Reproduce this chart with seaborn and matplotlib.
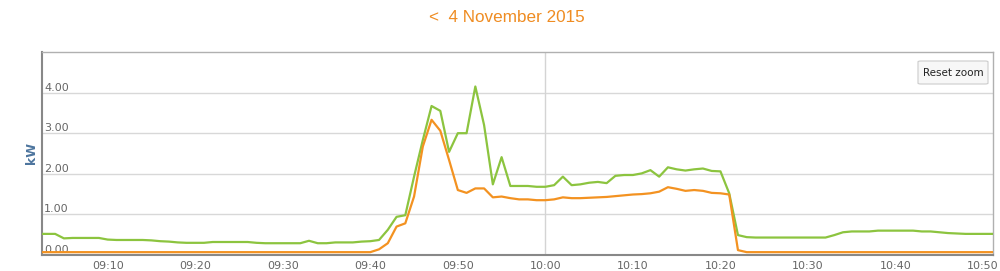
import matplotlib
matplotlib.use("Agg")
import matplotlib.pyplot as plt
import matplotlib.dates as mdates
from matplotlib.patches import FancyBboxPatch
import numpy as np
import pandas as pd
import seaborn as sns

# ---- data (1-minute readings, kW) ----
start_time = "2015-11-04 09:02"
green_kw = [
    0.52, 0.52, 0.52, 0.41, 0.42, 0.42, 0.42, 0.42, 0.38, 0.37,   # 09:02-09:11
    0.37, 0.37, 0.37, 0.36, 0.34, 0.33, 0.31, 0.30, 0.30, 0.30,   # 09:12-09:21
    0.32, 0.32, 0.32, 0.32, 0.32, 0.30, 0.29, 0.29, 0.29, 0.29,   # 09:22-09:31
    0.29, 0.35, 0.29, 0.29, 0.31, 0.31, 0.31, 0.33, 0.34, 0.37,   # 09:32-09:41
    0.62, 0.94, 0.98, 1.93, 2.83, 3.67, 3.55, 2.54, 3.00, 3.00,   # 09:42-09:51
    4.15, 3.20, 1.74, 2.41, 1.70, 1.70, 1.70, 1.68, 1.68, 1.72,   # 09:52-10:01
    1.93, 1.72, 1.74, 1.78, 1.80, 1.77, 1.95, 1.97, 1.97, 2.01,   # 10:02-10:11
    2.09, 1.93, 2.16, 2.11, 2.08, 2.11, 2.13, 2.07, 2.06, 1.52,   # 10:12-10:21
    0.49, 0.44, 0.43, 0.43, 0.43, 0.43, 0.43, 0.43, 0.43, 0.43,   # 10:22-10:31
    0.43, 0.49, 0.56, 0.58, 0.58, 0.58, 0.60, 0.60, 0.60, 0.60,   # 10:32-10:41
    0.60, 0.58, 0.58, 0.56, 0.54, 0.53, 0.52, 0.52, 0.52, 0.52,   # 10:42-10:51
    0.52,                                                         # 10:52
]
orange_kw = [
    0.07, 0.07, 0.07, 0.07, 0.07, 0.07, 0.07, 0.07, 0.07, 0.07,   # 09:02-09:11
    0.07, 0.07, 0.07, 0.07, 0.07, 0.07, 0.07, 0.07, 0.07, 0.07,   # 09:12-09:21
    0.07, 0.07, 0.07, 0.07, 0.07, 0.07, 0.07, 0.07, 0.07, 0.07,   # 09:22-09:31
    0.07, 0.07, 0.07, 0.07, 0.07, 0.07, 0.07, 0.07, 0.07, 0.14,   # 09:32-09:41
    0.29, 0.70, 0.78, 1.44, 2.67, 3.33, 3.06, 2.34, 1.60, 1.53,   # 09:42-09:51
    1.64, 1.64, 1.42, 1.44, 1.40, 1.37, 1.37, 1.35, 1.35, 1.37,   # 09:52-10:01
    1.42, 1.40, 1.40, 1.41, 1.42, 1.43, 1.45, 1.47, 1.49, 1.50,   # 10:02-10:11
    1.52, 1.56, 1.67, 1.63, 1.58, 1.60, 1.58, 1.53, 1.52, 1.49,   # 10:12-10:21
    0.12, 0.07, 0.07, 0.07, 0.07, 0.07, 0.07, 0.07, 0.07, 0.07,   # 10:22-10:31
    0.07, 0.07, 0.07, 0.07, 0.07, 0.07, 0.07, 0.07, 0.07, 0.07,   # 10:32-10:41
    0.07, 0.07, 0.07, 0.07, 0.07, 0.07, 0.07, 0.07, 0.07, 0.07,   # 10:42-10:51
    0.07,                                                         # 10:52
]
series_names = ["Total", "Self"]
y_ticks = [0, 1, 2, 3, 4]
title_text = "<  4 November 2015"
y_label = "kW"

times = pd.date_range(start_time, periods=len(green_kw), freq="min")
df = pd.DataFrame({
    "time": np.concatenate([times, times]),
    "kW": green_kw + orange_kw,
    "series": [series_names[0]] * len(green_kw) + [series_names[1]] * len(orange_kw),
})

sns.set_style("white")
plt.rcParams["font.family"] = ["DejaVu Sans"]

fig = plt.figure(figsize=(10, 2.71), dpi=100)
ax = fig.add_axes([0.042, 16 / 271, 0.951, 203 / 271])

palette = {series_names[0]: "#8cc43f", series_names[1]: "#f39221"}
sns.lineplot(data=df, x="time", y="kW", hue="series", palette=palette,
             linewidth=1.6, legend=False, ax=ax, zorder=3)

ax.set_xlim(pd.Timestamp("2015-11-04 09:02:30"), pd.Timestamp("2015-11-04 10:51:08"))
ax.set_ylim(0, 5)

# grid
ax.set_yticks(y_ticks)
ax.yaxis.grid(True, color="#d8d8d8", linewidth=1.0)
ax.xaxis.grid(False)
ax.axvline(pd.Timestamp("2015-11-04 10:00"), color="#d4d4d4", linewidth=1.0, zorder=1)

ax.set_yticklabels([f"{v:.2f}" for v in y_ticks])
ax.tick_params(axis="y", length=0, pad=-1.5, labelsize=8, labelcolor="#666666")
for lab in ax.get_yticklabels():
    lab.set_horizontalalignment("left")
    lab.set_verticalalignment("bottom")

ax.xaxis.set_major_locator(mdates.MinuteLocator(byminute=range(0, 60, 10)))
ax.xaxis.set_major_formatter(mdates.DateFormatter("%H:%M"))
ax.tick_params(axis="x", length=0, pad=4, labelsize=8, labelcolor="#666666")

ax.set_xlabel("")
ax.set_ylabel(y_label, fontsize=9, fontweight="bold", color="#4d759e", labelpad=3)

for side in ["top", "right"]:
    ax.spines[side].set_color("#b0b0b0")
    ax.spines[side].set_linewidth(1.0)
for side in ["left", "bottom"]:
    ax.spines[side].set_color("#888888")
    ax.spines[side].set_linewidth(1.5)

fig.text(0.5065, 1 - 17 / 271, title_text, ha="center", va="center",
         fontsize=12.3, color="#ef8c22", family=["Liberation Sans", "DejaVu Sans"])

# Reset zoom button
btn = FancyBboxPatch((918 / 1000, 1 - 84 / 271), 70 / 1000, 23 / 271,
                     boxstyle="round,pad=0,rounding_size=0.003",
                     transform=fig.transFigure, facecolor="#f7f7f7",
                     edgecolor="#cccccc", linewidth=0.8, zorder=5)
fig.patches.append(btn)
fig.text(953 / 1000, 1 - 72.5 / 271, "Reset zoom", ha="center", va="center",
         fontsize=7.5, color="#222222", family=["DejaVu Sans"], zorder=6)

fig.savefig("out.png", dpi=100, facecolor="white")
